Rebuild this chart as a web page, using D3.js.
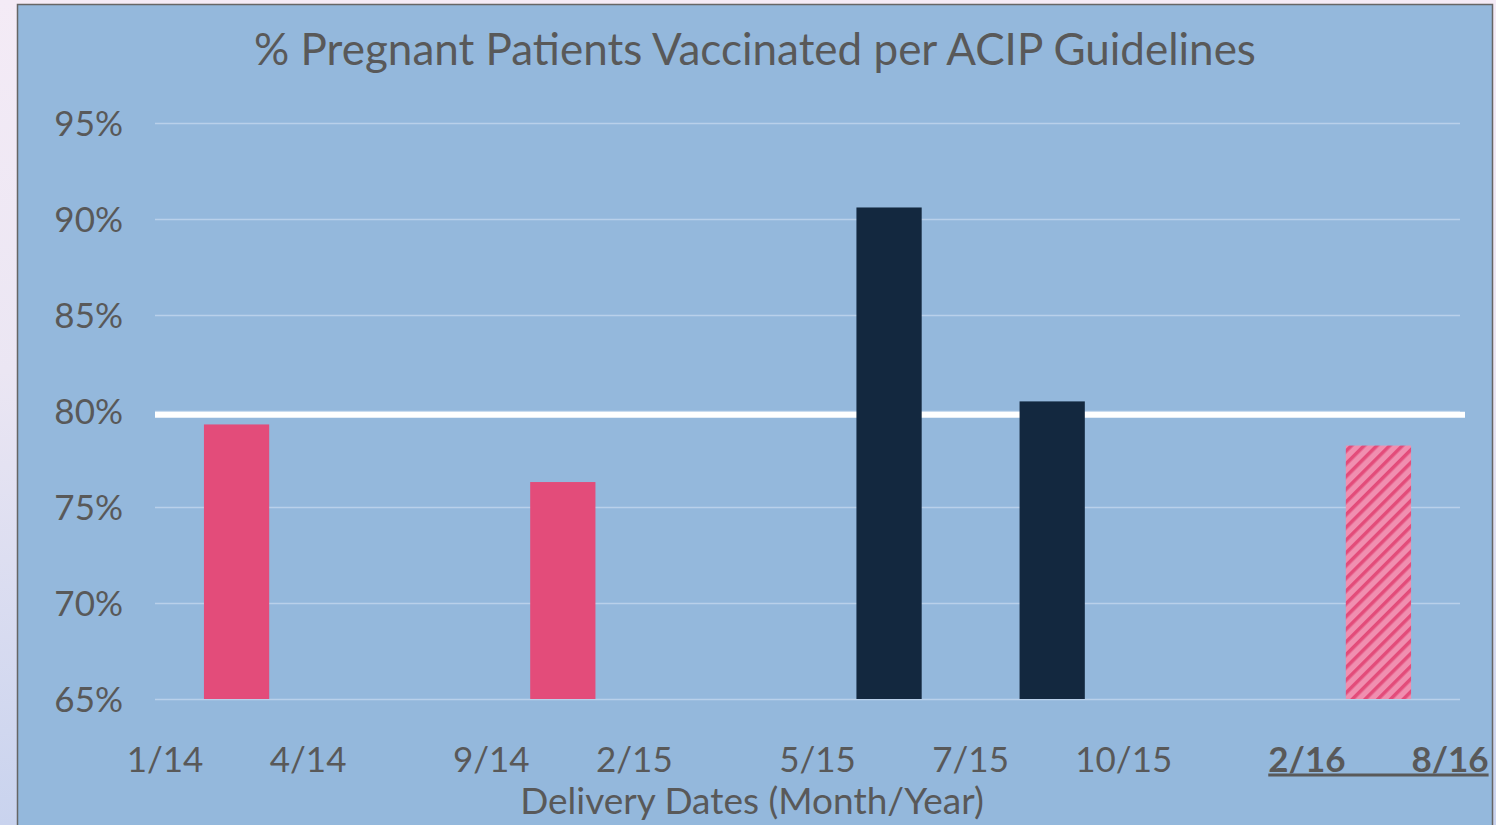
<!DOCTYPE html>
<html>
<head>
<meta charset="utf-8">
<script src="https://cdn.jsdelivr.net/npm/d3@7"></script>
<style>
  html, body { margin: 0; padding: 0; }
  body {
    width: 1496px; height: 825px; overflow: hidden;
    background: linear-gradient(180deg, #f4ebf6 0%, #ebe6f3 45%, #c9d3ee 100%);
  }
  svg { display: block; }
  text { font-family: Lato, "Open Sans", sans-serif; fill: #595959; }
</style>
</head>
<body>
<svg id="chart" width="1496" height="825"></svg>
<script>
// ---- data ----
const slots = ["1/14-4/14", "4/14-9/14", "9/14-2/15", "2/15-5/15", "5/15-7/15", "7/15-10/15", "10/15-2/16", "2/16-8/16"];
const values = [79.3, null, 76.3, null, 90.6, 80.5, null, 78.2];
const phases = ["before", null, "before", null, "after", "after", null, "projected"];
const boundaryLabels = ["1/14", "4/14", "9/14", "2/15", "5/15", "7/15", "10/15", "2/16", "8/16"];
const boldLabels = ["2/16", "8/16"];
const yTicks = [65, 70, 75, 80, 85, 90, 95];
const target = 79.8;
const title = "% Pregnant Patients Vaccinated per ACIP Guidelines";
const xTitle = "Delivery Dates (Month/Year)";

// ---- layout ----
const svg = d3.select("#chart");
const panel = { x: 17, y: 4, w: 1475, h: 840 };
const plot = { left: 155, right: 1460, top: 123, bottom: 699 };

const colors = { before: "#e34c7a", after: "#13283f", bg: "#94b8dc", grid: "#b9d0ea" };

const defs = svg.append("defs");
const pat = defs.append("pattern")
  .attr("id", "hatch")
  .attr("patternUnits", "userSpaceOnUse")
  .attr("width", 9).attr("height", 9)
  .attr("patternTransform", "rotate(45)");
pat.append("rect").attr("width", 9).attr("height", 9).attr("fill", "#f08fb0");
pat.append("rect").attr("width", 3.5).attr("height", 9).attr("fill", "#e34c7a");

svg.append("rect")
  .attr("x", panel.x + 0.5).attr("y", panel.y + 0.5)
  .attr("width", panel.w).attr("height", panel.h)
  .attr("fill", colors.bg).attr("stroke", "#666").attr("stroke-width", 1.5);

const x = d3.scaleBand().domain(slots).range([plot.left, plot.right])
  .paddingInner(0.6).paddingOuter(0.3);
const y = d3.scaleLinear().domain([65, 95]).range([plot.bottom, plot.top]);

// gridlines
const yAxis = d3.axisLeft(y).tickValues(yTicks).tickSize(-(plot.right - plot.left))
  .tickFormat(d => d + "%").tickPadding(32);
const ga = svg.append("g").attr("transform", `translate(${plot.left},0)`).call(yAxis);
ga.select(".domain").remove();
ga.selectAll(".tick line").attr("stroke", colors.grid).attr("stroke-width", 1.6);
ga.selectAll(".tick text").attr("font-size", 35).attr("fill", "#595959")
  .attr("dy", "0.35em").attr("font-family", "Lato, sans-serif");

// target line
svg.append("line")
  .attr("x1", plot.left).attr("x2", plot.right + 5)
  .attr("y1", y(target)).attr("y2", y(target))
  .attr("stroke", "#ffffff").attr("stroke-width", 6);

// bars
const barData = slots.map((s, i) => ({ slot: s, v: values[i], phase: phases[i] })).filter(d => d.v != null);
svg.append("g").selectAll("rect").data(barData).join("rect")
  .attr("x", d => x(d.slot))
  .attr("width", x.bandwidth())
  .attr("y", d => y(d.v))
  .attr("height", d => y(65) - y(d.v))
  .attr("fill", d => d.phase === "projected" ? "url(#hatch)" : colors[d.phase]);

// x boundary labels (placed at slot boundaries, pulled toward the neighbouring bar)
const step = x.step();
const slotStart = i => plot.left + i * step;
const hasBar = i => i >= 0 && i < values.length && values[i] != null;
const lab = svg.append("g").selectAll("text").data(boundaryLabels).join("text")
  .attr("y", 760).attr("dy", "0.35em")
  .attr("font-size", 35)
  .attr("font-weight", d => boldLabels.includes(d) ? 700 : 400)
  .attr("text-anchor", "middle")
  .text(d => d);
lab.each(function(d, i) {
  const w = this.getComputedTextLength();
  const pull = (hasBar(i) ? 1 : 0) - (hasBar(i - 1) ? 1 : 0);
  let cx = slotStart(i) + pull * 10;
  cx = Math.min(cx, panel.x + panel.w - 2 - w / 2);
  d3.select(this).attr("x", cx);
});
// underline for bold labels
const boldNodes = lab.filter(d => boldLabels.includes(d)).nodes();
if (boldNodes.length) {
  const b0 = boldNodes[0].getBBox(), b1 = boldNodes[boldNodes.length - 1].getBBox();
  svg.append("line")
    .attr("x1", b0.x).attr("x2", b1.x + b1.width)
    .attr("y1", 775).attr("y2", 775)
    .attr("stroke", "#595959").attr("stroke-width", 3);
}

// axis title
svg.append("text")
  .attr("x", 752).attr("y", 801).attr("dy", "0.35em")
  .attr("text-anchor", "middle").attr("font-size", 37)
  .text(xTitle);

// chart title
svg.append("text")
  .attr("x", 755).attr("y", 50).attr("dy", "0.35em")
  .attr("text-anchor", "middle").attr("font-size", 44)
  .text(title);
</script>
</body>
</html>
